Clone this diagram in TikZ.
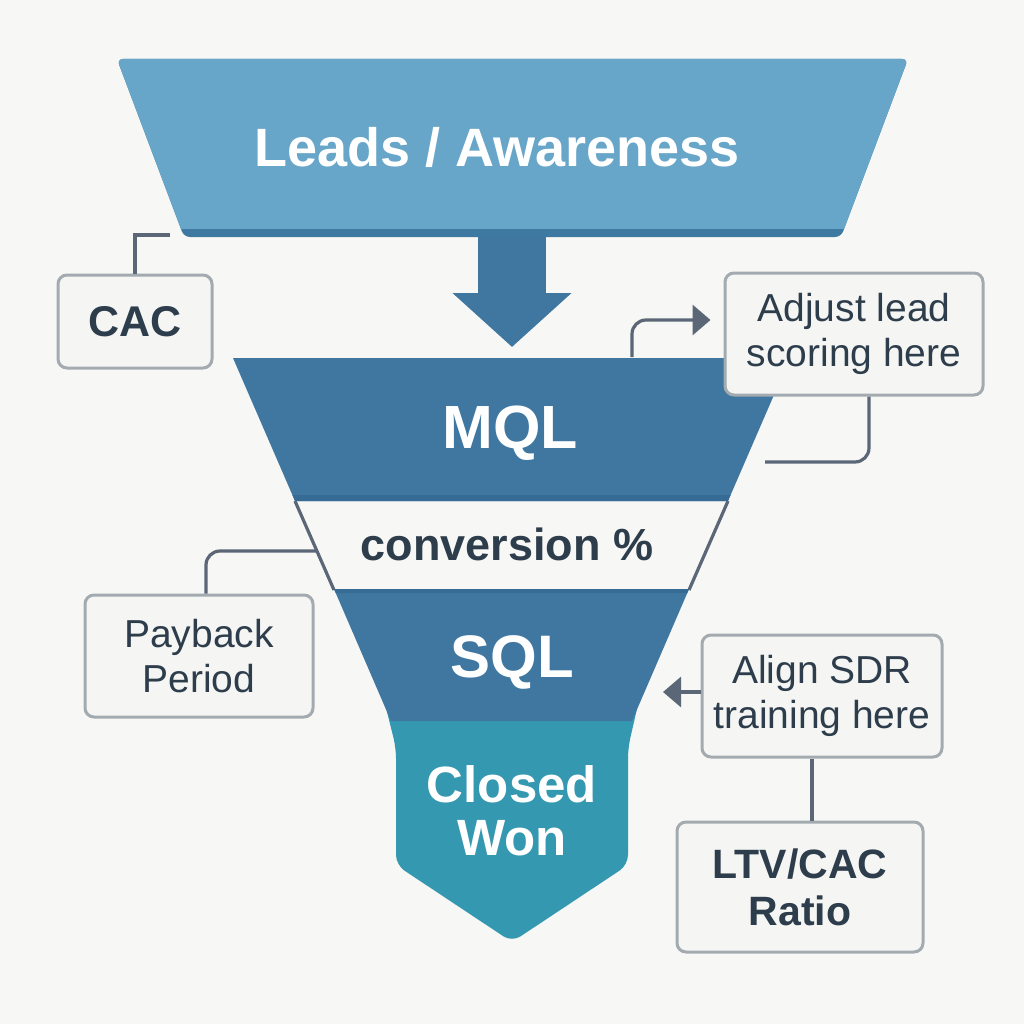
\documentclass[tikz,border=0pt]{standalone}
\usepackage{fontspec}
\setmainfont{Liberation Sans}
\usetikzlibrary{arrows.meta, positioning, calc}

\definecolor{bgpaper}{HTML}{F7F7F5}
\definecolor{leadsblue}{HTML}{67A6C8}
\definecolor{leadsedge}{HTML}{3E79A2}
\definecolor{stageblue}{HTML}{3F77A0}
\definecolor{stageedge}{HTML}{356B94}
\definecolor{wonteal}{HTML}{3598B1}
\definecolor{inkslate}{HTML}{2E3D4B}
\definecolor{wireslate}{HTML}{5B6776}
\definecolor{boxrim}{HTML}{A3ABB0}
\definecolor{boxfill}{HTML}{F5F6F4}

\begin{document}
\begin{tikzpicture}[x=1pt, y=-1pt,
    stage/.style={text=white, inner sep=0pt},
    note/.style={rectangle, rounded corners=9pt, draw=boxrim, line width=3pt, fill=boxfill,
                 text=inkslate, align=center, inner sep=0pt},
    wire/.style={draw=wireslate, line width=3.2pt},
    pointer/.style={-{Triangle[length=18pt, width=30pt]}},
    bigfont/.style={font=\bfseries\fontsize{#1}{#1}\selectfont},
    notefont/.style={font=\fontsize{39}{45}\selectfont}
]

% Canvas
\fill[bgpaper] (0,0) rectangle (1024,1024);
\useasboundingbox (0,0) rectangle (1024,1024);

% Leads / Awareness
\fill[leadsedge, rounded corners=6pt] (117,59) -- (908,59) -- (841,237) -- (184,237) -- cycle;
\fill[leadsblue] (181,229) [rounded corners=6pt] -- (117,59) -- (908,59) [sharp corners] -- (844,229) -- cycle;
\node[stage, bigfont=54, anchor=base] (leads) at (497,167) {Leads / Awareness};

% Closed Won (drawn first, top hidden under SQL)
\fill[wonteal, rounded corners=10pt] (384,700) -- (639,700) -- (628,748) -- (628,865)
    -- (512,942) -- (396,865) -- (396,748) -- cycle;

% MQL
\fill[stageblue, rounded corners=4pt] (233,358) -- (790,358) [sharp corners] -- (728,501) -- (295,501) -- cycle;
\fill[stageedge] (292.4,495) -- (730.6,495) -- (728,501) -- (295,501) -- cycle;
\node[stage, bigfont=61, anchor=base] (mql) at (510,448) {MQL};

% conversion band
\draw[wire] (295,501) -- (334,590);
\draw[wire] (728,501) -- (689,590);
\node[text=inkslate, bigfont=45, anchor=base, inner sep=0pt] (conv) at (507,560) {conversion \%};

% SQL
\fill[stageblue] (334,589) -- (689,589) -- (632,721) -- (391,721) -- cycle;
\fill[stageedge] (334,589) -- (689,589) -- (687.3,593) -- (335.7,593) -- cycle;
\node[stage, bigfont=60, anchor=base] (sql) at (512,677) {SQL};
\node[stage, bigfont=51, align=center] (won) at (512,811) {Closed\\[2pt]Won};

% Big arrow between stages
\coordinate (leadsfoot) at (512,236);
\coordinate (mqlhead) at (512,358);
\draw[stageblue, line width=68pt, -{Triangle[length=54pt, width=116pt]}, shorten >=11pt]
    (leadsfoot) -- (mqlhead);

% Side notes
\node[note, font=\bfseries\fontsize{43}{45}\selectfont, minimum width=154pt, minimum height=93pt] (cac) at (135,321.5) {CAC};
\node[note, notefont, minimum width=258pt, minimum height=122pt] (adjust) at (854,334) {Adjust lead\\scoring here};
\node[note, notefont, minimum width=228pt, minimum height=122pt] (payback) at (199,656) {Payback\\Period};
\node[note, notefont, minimum width=240pt, minimum height=122pt] (align) at (822,696) {Align SDR\\training here};
\node[note, font=\bfseries\fontsize{41}{47}\selectfont, minimum width=246pt, minimum height=130pt] (ltv) at (800,887) {LTV/CAC\\Ratio};

% Connectors
\coordinate (cactip) at (170,235);
\coordinate (mqlpin) at (632,357);
\coordinate (mqlflank) at (765,462);
\coordinate (convflank) at (317,551);
\coordinate (sqlflank) at (663,692);

\draw[wire] (cac.north) |- (cactip);
\draw[wire, pointer, rounded corners=14pt, shorten >=13pt] (mqlpin) |- ([yshift=14pt]adjust.west);
\draw[wire, rounded corners=14pt] ([xshift=15pt]adjust.south) |- (mqlflank);
\draw[wire, rounded corners=14pt] ([xshift=7pt]payback.north) |- (convflank);
\draw[wire, pointer] ([yshift=4pt]align.west) -- (sqlflank);
\draw[wire] ([xshift=-10pt]align.south) -- ([xshift=-10pt]align.south |- ltv.north);

\end{tikzpicture}
\end{document}
